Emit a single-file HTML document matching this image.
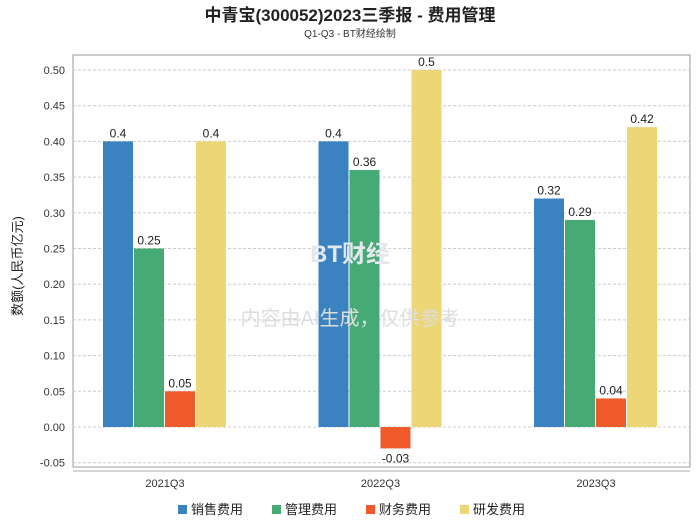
<!DOCTYPE html>
<html><head><meta charset="utf-8"><style>
body{margin:0;background:#fff;font-family:"Liberation Sans","Noto Sans CJK SC",sans-serif;}
</style></head><body>
<svg id="chart" width="700" height="524" xmlns="http://www.w3.org/2000/svg" font-family="Liberation Sans, Noto Sans CJK SC, sans-serif">
<rect width="700" height="524" fill="#fff"/>
<text x="350" y="21" text-anchor="middle" font-size="17" font-weight="bold" fill="#222">中青宝(300052)2023三季报 - 费用管理</text>
<text x="350" y="37" text-anchor="middle" font-size="10" fill="#333">Q1-Q3 - BT财经绘制</text>
<text transform="translate(22,266) rotate(-90)" text-anchor="middle" font-size="13" fill="#222">数额(人民币亿元)</text>
<g id="grid"></g><g id="bars"></g>
<text x="350" y="325" text-anchor="middle" font-size="20" fill="#ddd">内容由AI生成，仅供参考</text>
<text x="350" y="262" text-anchor="middle" font-size="24" font-weight="bold" fill="#e4e8ee">BT财经</text>
<g id="legend"></g>
</svg>
<script>
const categories=["2021Q3","2022Q3","2023Q3"];
const seriesNames=["销售费用","管理费用","财务费用","研发费用"];
const colors=["#3a82c0","#45aa74","#ef5a2b","#ecd675"];
const sales=[0.4,0.4,0.32];
const admin=[0.25,0.36,0.29];
const finance=[0.05,-0.03,0.04];
const rnd=[0.4,0.5,0.42];
const yTicks=[-0.05,0,0.05,0.1,0.15,0.2,0.25,0.3,0.35,0.4,0.45,0.5];
const series=[sales,admin,finance,rnd];
const NS="http://www.w3.org/2000/svg";
const L=73,R=690,T=55,B=467;
const y=v=>427-v*714;
const xc=i=>165+i*215.5;
function mk(t,a,p){const e=document.createElementNS(NS,t);for(const k in a)e.setAttribute(k,a[k]);p.appendChild(e);return e;}
const g=document.getElementById('grid');
const frame=mk('rect',{x:L,y:T,width:R-L,height:B-T,fill:'none',stroke:'#999'},g);


const ax=mk('line',{x1:L,x2:R,y1:B+4,y2:B+4,stroke:'#aaa'},g);


yTicks.forEach(v=>{
 const ln=mk('line',{x1:L,x2:R,y1:y(v),y2:y(v),stroke:'#ccc','stroke-dasharray':'3,2'},g);
 
 
 const t=mk('text',{x:L-8,y:y(v)+4,'text-anchor':'end','font-size':11,fill:'#333'},g);
 t.textContent=v.toFixed(2);
 
 
});
const bg=document.getElementById('bars');
const bw=30,gap=1;
categories.forEach((c,i)=>{
 const t=mk('text',{x:xc(i),y:B+20,'text-anchor':'middle','font-size':11,fill:'#333'},bg);
 t.textContent=c;
 
 
 series.forEach((s,j)=>{
  const v=s[i];
  const x=xc(i)-2*(bw+gap)+j*(bw+gap);
  const top=Math.min(y(v),y(0)),h=Math.abs(y(v)-y(0));
  const r=mk('rect',{x:x,y:top,width:bw,height:h,fill:colors[j]},bg);
  
  
  const lb=mk('text',{x:x+bw/2,y:v>=0?y(v)-4:y(v)+14,'text-anchor':'middle','font-size':12,fill:'#222'},bg);
  lb.textContent=String(v);
  
  
 });
});
const lg=document.getElementById('legend');
const lx=[178,272,366,460];
seriesNames.forEach((n,j)=>{
 const r=mk('rect',{x:lx[j],y:505,width:9,height:9,fill:colors[j]},lg);
 
 
 const t=mk('text',{x:lx[j]+13,y:514,'font-size':13,fill:'#222'},lg);
 t.textContent=n;
 
 
});
</script>
</body></html>
